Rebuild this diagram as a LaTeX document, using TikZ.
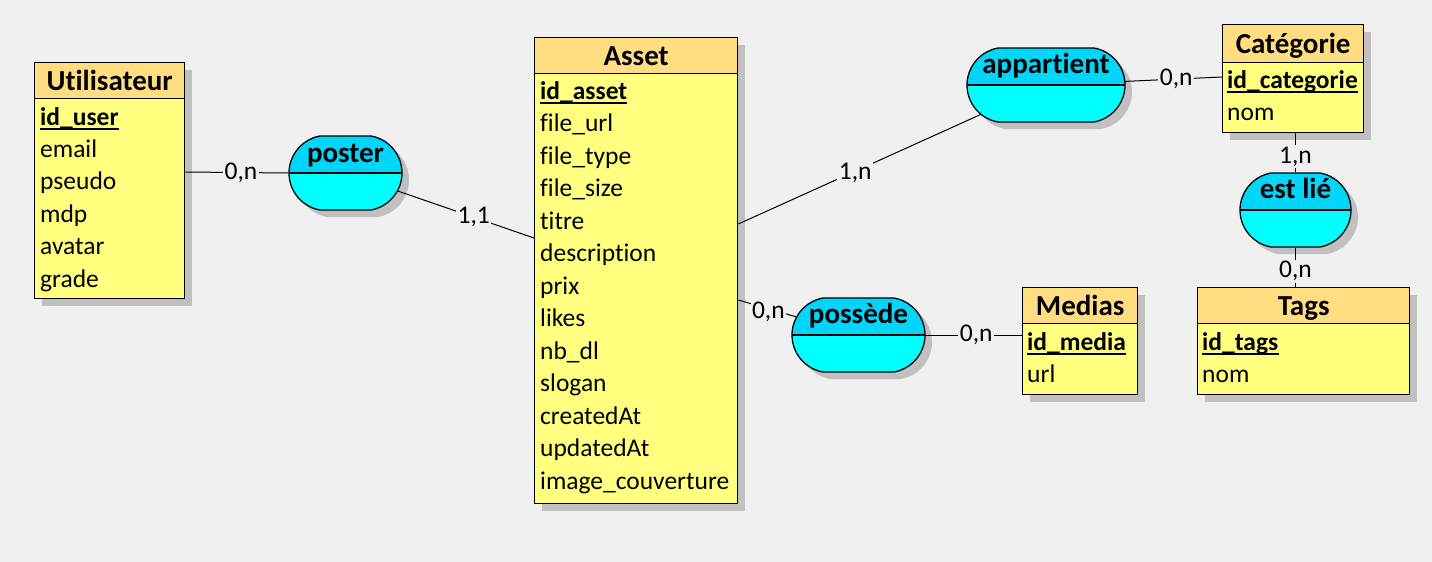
\documentclass[tikz,border=0pt]{standalone}
\usepackage{fontspec}
\setmainfont{Carlito}[Ligatures={NoCommon}]
\usetikzlibrary{shadows,calc,shapes.misc}
\definecolor{bg}{RGB}{240,240,240}
\definecolor{headY}{RGB}{255,221,128}
\definecolor{bodyY}{RGB}{255,255,128}
\definecolor{cyanTop}{RGB}{0,214,250}
\definecolor{cyanBot}{RGB}{0,255,255}
\definecolor{shade}{RGB}{192,192,192}
\pgfdeclarelayer{background}
\pgfdeclarelayer{front}
\pgfsetlayers{background,main,front}
\newcommand\attrfont{\fontsize{25.5}{30}\selectfont}
\newcommand\titlefont{\fontsize{29}{34}\selectfont\bfseries}
\tikzset{
  shd/.style={drop shadow={shadow xshift=7pt, shadow yshift=-7pt, fill=shade, opacity=1}},
  entity/.style={draw=black, line width=1.3pt, fill=bodyY, anchor=north west, inner sep=0pt, shd},
  ehead/.style={draw=black, line width=1.3pt, fill=headY, anchor=north west, inner sep=0pt,
    minimum height=36pt, text height=19pt, text depth=0pt, font=\titlefont},
  attr/.style={anchor=base west, inner sep=0pt, font=\attrfont},
  keyattr/.style={anchor=base west, inner sep=0pt, font=\attrfont\bfseries},
  keyline/.style={line width=1.3pt},
  ashape/.style={rounded rectangle, rounded rectangle arc length=160, inner sep=0pt, minimum height=74pt},
  assoc/.style={ashape, draw=black, line width=1.3pt, fill=cyanBot,
    path picture={\fill[cyanTop] (path picture bounding box.north west) rectangle (path picture bounding box.east);
      \draw[line width=1.3pt] (path picture bounding box.west) -- (path picture bounding box.east);}},
  assocshd/.style={ashape, fill=shade, draw=none},
  aname/.style={anchor=base, inner sep=0pt, font=\titlefont},
  card/.style={fill=bg, inner sep=1.5pt, font=\attrfont},
  link/.style={line width=1pt, draw=black}
}
\begin{document}
\begin{tikzpicture}[x=1pt,y=-1pt]
\useasboundingbox (0,0) rectangle (1432,562);
\begin{pgfonlayer}{background}
\fill[bg] (0,0) rectangle (1432,562);
\end{pgfonlayer}

% ---------- Associations (front layer, above the connectors)
\begin{pgfonlayer}{front}
\node[assoc, minimum width=113pt] (poster) at (345.5,173) {};
\node[aname] (posterT) at ($(poster.center)+(0,-10.5)$) {poster};
\node[assoc, minimum width=158pt] (app) at (1046,85) {};
\node[aname] (appT) at ($(app.center)+(0,-11.5)$) {appartient};
\node[assoc, minimum width=111pt] (estlie) at (1295.5,210) {};
\node[aname] (estlieT) at ($(estlie.center)+(0,-11.5)$) {est lié};
\node[assoc, minimum width=133pt] (poss) at (858.5,335) {};
\node[aname] (possT) at ($(poss.center)+(0,-11.5)$) {possède};
\end{pgfonlayer}

% ---------- Utilisateur
\node[entity, minimum width=150pt, minimum height=236pt] (util) at (34,62) {};
\node[ehead, minimum width=150pt] (utilT) at (util.north west) {Utilisateur};
\node[keyattr] (uk) at (40,125) {id\_user};
\draw[keyline] ($(uk.base west)+(0,4)$) -- ($(uk.base east)+(0,4)$);
\node[attr] (u2) at (40,157.4) {email};
\node[attr] (u3) at (40,189.8) {pseudo};
\node[attr] (u4) at (40,222.2) {mdp};
\node[attr] (u5) at (40,254.6) {avatar};
\node[attr] (u6) at (40,287) {grade};

% ---------- Asset
\node[entity, minimum width=203pt, minimum height=466pt] (asset) at (534,37) {};
\node[ehead, minimum width=203pt] (assetT) at (asset.north west) {Asset};
\node[keyattr] (ak) at (540,99) {id\_asset};
\draw[keyline] ($(ak.base west)+(0,4)$) -- ($(ak.base east)+(0,4)$);
\node[attr] (a2) at (540,131.5) {file\_url};
\node[attr] (a3) at (540,164) {file\_type};
\node[attr] (a4) at (540,196.5) {file\_size};
\node[attr] (a5) at (540,229) {titre};
\node[attr] (a6) at (540,261.5) {description};
\node[attr] (a7) at (540,294) {prix};
\node[attr] (a8) at (540,326.5) {likes};
\node[attr] (a9) at (540,359) {nb\_dl};
\node[attr] (a10) at (540,391.5) {slogan};
\node[attr] (a11) at (540,424) {createdAt};
\node[attr] (a12) at (540,456.5) {updatedAt};
\node[attr] (a13) at (540,489) {image\_couverture};

% ---------- Catégorie
\node[entity, minimum width=141pt, minimum height=108pt] (cat) at (1222,24) {};
\node[ehead, minimum width=141pt, minimum height=38pt] (catT) at (cat.north west) {Catégorie};
\node[keyattr] (ck) at (1227,88) {id\_categorie};
\draw[keyline] ($(ck.base west)+(0,4)$) -- ($(ck.base east)+(0,4)$);
\node[attr] (c2) at (1227,120) {nom};

% ---------- Medias
\node[entity, minimum width=115pt, minimum height=107pt] (med) at (1022,287) {};
\node[ehead, minimum width=115pt] (medT) at (med.north west) {Medias};
\node[keyattr] (mk) at (1027,350) {id\_media};
\draw[keyline] ($(mk.base west)+(0,4)$) -- ($(mk.base east)+(0,4)$);
\node[attr] (m2) at (1027,382) {url};

% ---------- Tags
\node[entity, minimum width=212pt, minimum height=107pt] (tags) at (1197,287) {};
\node[ehead, minimum width=212pt] (tagsT) at (tags.north west) {Tags};
\node[keyattr] (tk) at (1202,350) {id\_tags};
\draw[keyline] ($(tk.base west)+(0,4)$) -- ($(tk.base east)+(0,4)$);
\node[attr] (t2) at (1202,382) {nom};

% ---------- shadows of the associations (below the connectors)
\node[assocshd, minimum width=113pt] (posterS) at ($(poster.center)+(7,7)$) {};
\node[assocshd, minimum width=158pt] (appS) at ($(app.center)+(7,7)$) {};
\node[assocshd, minimum width=111pt] (estlieS) at ($(estlie.center)+(7,7)$) {};
\node[assocshd, minimum width=133pt] (possS) at ($(poss.center)+(7,7)$) {};

% ---------- connector end points on the entities
\coordinate (u1) at (util.east |- 0,172);
\coordinate (as1) at (asset.west |- 0,238);
\coordinate (as2) at (asset.east |- 0,224);
\coordinate (as3) at (asset.east |- 0,300);
\coordinate (c1) at (cat.west |- 0,77);
\coordinate (c3) at (cat.south -| estlie.center);
\coordinate (t1) at (tags.north -| estlie.center);
\coordinate (m1) at (med.west |- poss.center);

% ---------- connectors
\draw[link] (u1) -- node[card, pos=.54] {0,n} (poster.west);
\draw[link] (poster.center) -- node[card, pos=.68] {1,1} (as1);
\draw[link] (as2) -- node[card, pos=.38, yshift=-2pt] {1,n} (app.center);
\draw[link] (app.center) -- node[card, pos=.74] {0,n} (c1);
\draw[link] (c3) -- node[card, pos=.6] {1,n} (estlie.north);
\draw[link] (estlie.south) -- node[card, pos=.6] {0,n} (t1);
\draw[link] (as3) -- node[card, pos=.25, yshift=-3pt] {0,n} (poss.center);
\draw[link] (poss.center) -- node[card, pos=.72] {0,n} (m1);
\end{tikzpicture}
\end{document}
